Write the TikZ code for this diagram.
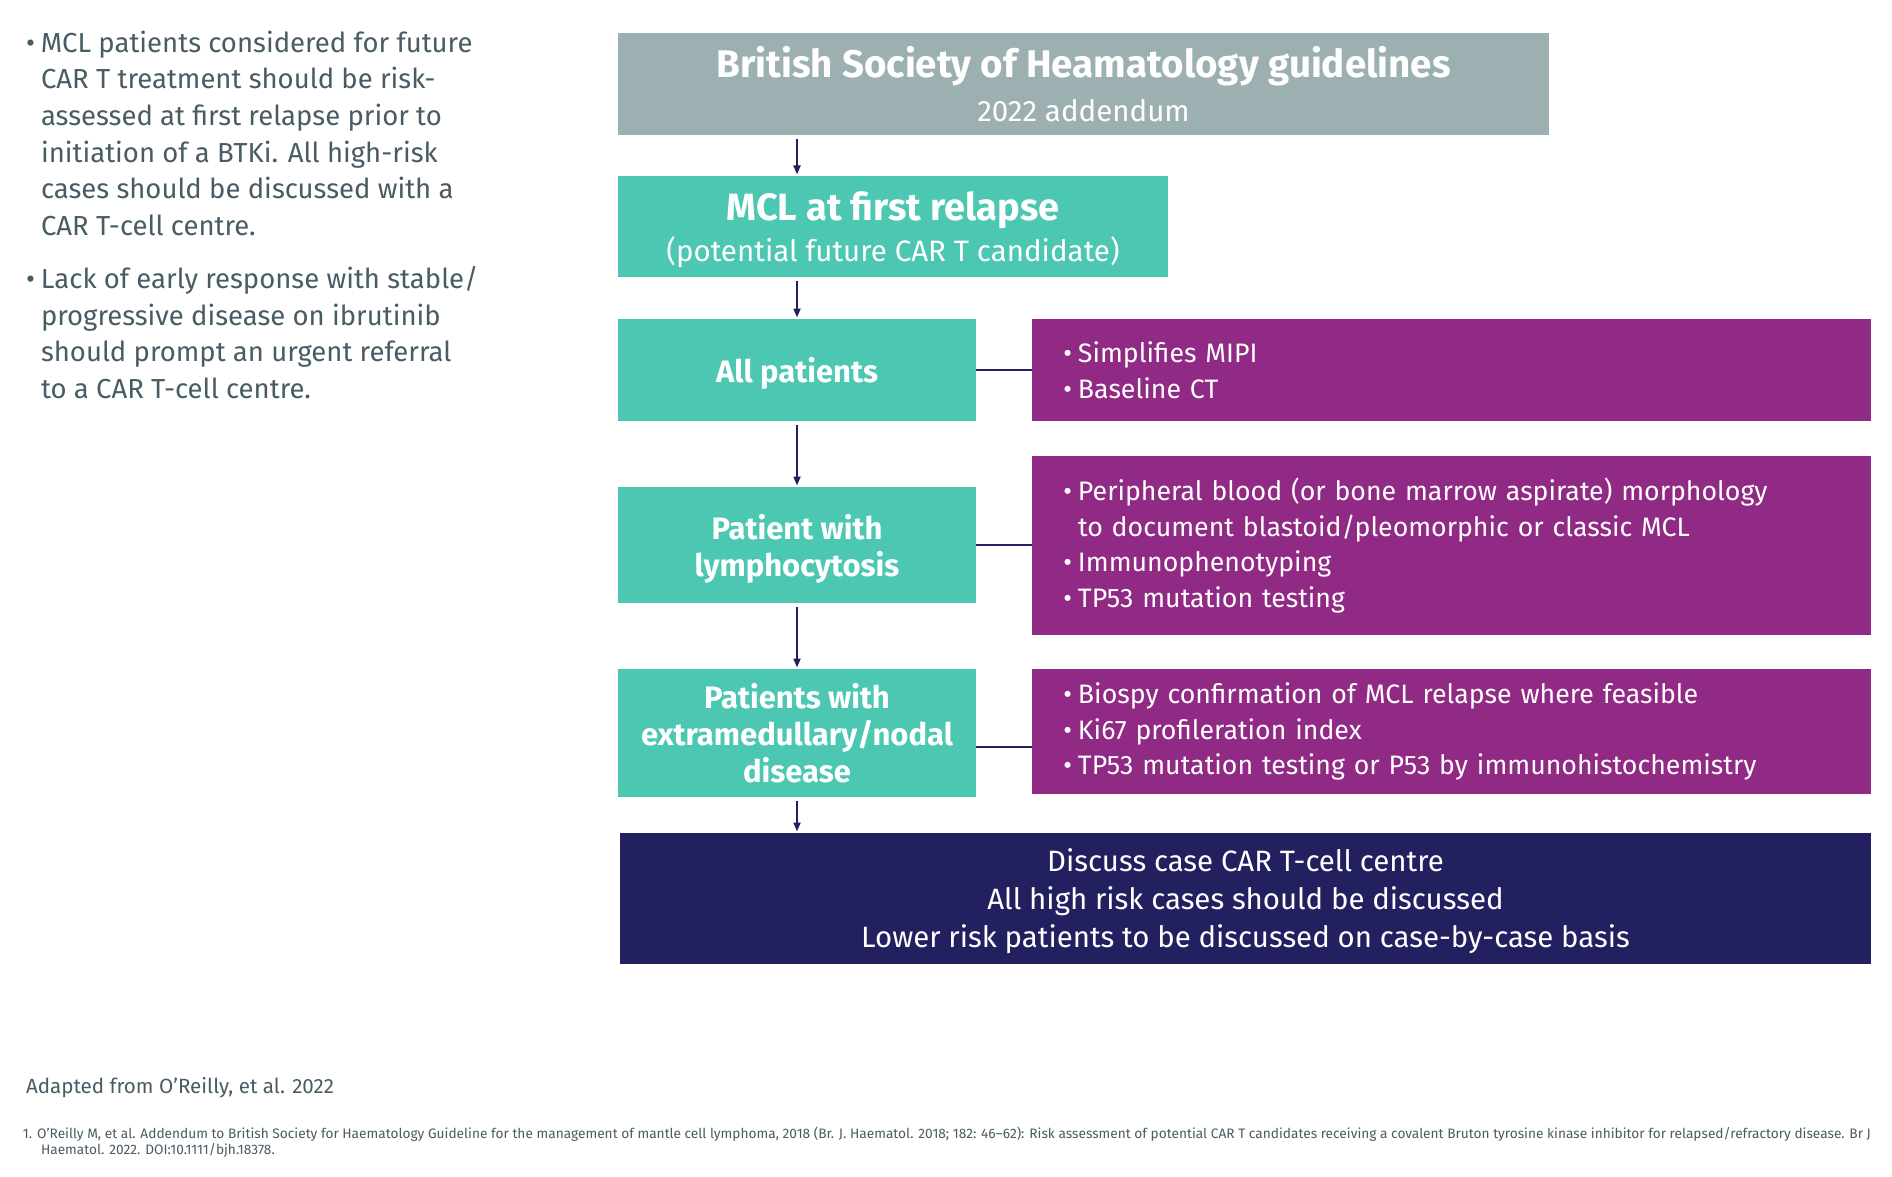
\documentclass[tikz,border=0pt]{standalone}
\usepackage{fontspec}
\setmainfont{Fira Sans}
\usetikzlibrary{arrows.meta}
\definecolor{cteal}{RGB}{76,199,178}
\definecolor{cgrey}{RGB}{157,176,177}
\definecolor{cpurple}{RGB}{145,42,133}
\definecolor{cnavy}{RGB}{35,32,96}
\definecolor{ctext}{RGB}{72,92,100}
\newcommand\bul{\leavevmode\llap{•\hspace{6pt}}}
\begin{document}
\begin{tikzpicture}[x=1pt,y=-1pt,
  every node/.style={inner sep=0pt, outer sep=0pt},
  greybox/.style={fill=cgrey, text=white, align=center, minimum width=931pt, minimum height=102pt},
  tealbox/.style={fill=cteal, text=white, align=center, minimum width=358pt, text depth=0pt, font=\fontsize{31}{37}\selectfont\bfseries},
  purplebox/.style={fill=cpurple, text=white, align=left, text width=747pt, inner xsep=46pt, inner ysep=0pt, font=\fontsize{26.7}{35.5}\selectfont},
  navybox/.style={fill=cnavy, text=white, align=center, minimum width=1251pt, minimum height=131pt, text depth=0pt, font=\fontsize{29.4}{38}\selectfont},
  flow/.style={draw=cnavy, line width=2pt, shorten <=4pt, shorten >=1.5pt, -{Triangle[length=9pt,width=7pt]}},
  link/.style={draw=cnavy, line width=2pt},
  bodytext/.style={text=ctext, align=left, font=\fontsize{27.5}{36.5}\selectfont}
]
\useasboundingbox (0,0) rectangle (1892,1177);
\fill[white] (0,0) rectangle (1892,1177);

% left text (anchor base = baseline of last line)
\node[bodytext, anchor=base west] (lt1) at (41,235) {\bul MCL patients considered for future\\CAR T treatment should be risk-\\assessed at first relapse prior to\\initiation of a BTKi. All high-risk\\cases should be discussed with a\\CAR T-cell centre.};
\node[bodytext, anchor=base west] (lt2) at (41,398) {\bul Lack of early response with stable/\\progressive disease on ibrutinib\\should prompt an urgent referral\\to a CAR T-cell centre.};

% boxes
\node[greybox] (bsh) at (1083.5,84) {{\fontsize{38.5}{43}\selectfont\bfseries British Society of Heamatology guidelines}\\[12pt]{\fontsize{29.5}{32}\selectfont 2022 addendum}};
\node[fill=cteal, text=white, align=center, minimum width=550pt, minimum height=101pt, text depth=0pt] (mcl) at (893,226.5) {{\fontsize{38}{40}\selectfont\bfseries MCL at first relapse}\\[7pt]{\fontsize{29.5}{32}\selectfont (potential future CAR T candidate)}};
\node[tealbox, minimum height=102pt] (all) at (797,370) {All patients};
\node[tealbox, minimum height=116pt] (lym) at (797,545) {Patient with\\lymphocytosis};
\node[tealbox, minimum height=128pt] (ext) at (797,733) {Patients with\\extramedullary/nodal\\disease};

\node[purplebox, minimum height=102pt] (p1) at (1451.5,370) {\bul Simplifies MIPI\\\bul Baseline CT};
\node[purplebox, minimum height=179pt] (p2) at (1451.5,545.5) {\bul Peripheral blood (or bone marrow aspirate) morphology\\to document blastoid/pleomorphic or classic MCL\\\bul Immunophenotyping\\\bul TP53 mutation testing};
\node[purplebox, minimum height=125pt] (p3) at (1451.5,731.5) {\bul Biospy confirmation of MCL relapse where feasible\\\bul Ki67 profileration index\\\bul TP53 mutation testing or P53 by immunohistochemistry};

\node[navybox] (disc) at (1245.5,898.5) {Discuss case CAR T-cell centre\\All high risk cases should be discussed\\Lower risk patients to be discussed on case-by-case basis};

% arrows
\draw[flow] (bsh.south -| all) -- (mcl.north -| all);
\draw[flow] (mcl.south -| all) -- (all.north);
\draw[flow] (all.south) -- (lym.north);
\draw[flow] (lym.south) -- (ext.north);
\draw[flow] (ext.south) -- (disc.north -| ext);

% side links
\draw[link] (all.east) -- (all.east -| p1.west);
\draw[link] (lym.east) -- (lym.east -| p2.west);
\draw[link] ([yshift=-14pt]ext.east) -- ([yshift=-14pt]ext.east -| p3.west);

% source notes
\node[text=ctext, anchor=base west, font=\fontsize{20.6}{24}\selectfont] (adapt) at (26,1093) {Adapted from O’Reilly, et al. 2022};
\node[text=ctext, anchor=base west, align=left, font=\fontsize{13.7}{15.5}\selectfont] (fn) at (23,1154) {1. O’Reilly M, et al. Addendum to British Society for Haematology Guideline for the management of mantle cell lymphoma, 2018 (Br. J. Haematol. 2018; 182: 46–62): Risk assessment of potential CAR T candidates receiving a covalent Bruton tyrosine kinase inhibitor for relapsed/refractory disease. Br J\\\hspace{18pt}Haematol. 2022. DOI:10.1111/bjh.18378.};
\end{tikzpicture}
\end{document}
